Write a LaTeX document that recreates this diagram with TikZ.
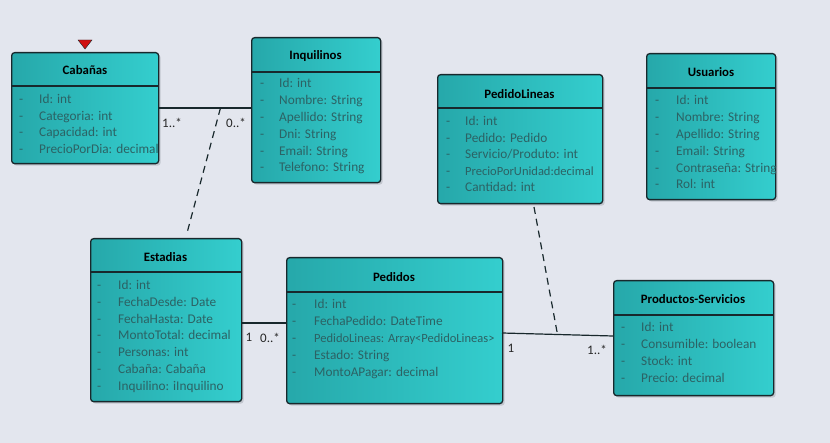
\documentclass[tikz,border=0pt]{standalone}
\usepackage{fontspec}
\setmainfont{Carlito}
\usetikzlibrary{shadows}
\definecolor{bg}{RGB}{227,230,238}
\definecolor{tealL}{RGB}{38,168,170}
\definecolor{tealR}{RGB}{52,206,206}
\definecolor{attrc}{RGB}{44,98,100}
\definecolor{edgec}{RGB}{24,40,44}
\definecolor{shadowc}{RGB}{188,192,200}
\definecolor{redtri}{RGB}{208,16,16}
\tikzset{
  classbox/.style={draw=edgec, line width=1.3pt, rounded corners=3pt,
    left color=tealL, right color=tealR, anchor=north west, inner sep=0pt,
    drop shadow={shadow xshift=2pt, shadow yshift=-2pt, fill=shadowc, opacity=0.8}},
  divider/.style={draw=edgec, line width=1.3pt},
  titletxt/.style={inner sep=0pt, font=\fontsize{12.8pt}{15pt}\selectfont\bfseries, text=black},
  attrtxt/.style={inner sep=0pt, anchor=mid west, font=\fontsize{13.3pt}{15pt}\selectfont, text=attrc},
  assoc/.style={draw=edgec, line width=1.2pt},
  depend/.style={draw=edgec, line width=1.2pt, dash pattern=on 7pt off 5pt},
  mult/.style={inner sep=0pt, font=\fontsize{13pt}{15pt}\selectfont, text=black!85},
}
\newcommand\narrowtxt[1]{{\fontsize{12.5pt}{15pt}\selectfont #1}}
\newcommand\attrlist[6]{%
  \foreach \myitem [count=\i from 0] in {#6} {
    \node[attrtxt] (#1-d\i) at (#2, #4+1.5+\i*#5) {-};
    \node[attrtxt] (#1-a\i) at (#3, #4+1.5+\i*#5) {\myitem};
  }}
\begin{document}
\begin{tikzpicture}[x=1pt, y=-1pt]
\fill[bg] (0,0) rectangle (830,443);
\useasboundingbox (0,0) rectangle (830,443);

% ---- Cabanas
\node[classbox, minimum width=147pt, minimum height=111pt] (cab) at (11,52) {};
\draw[divider] (cab.west |- 0,86) -- (cab.east |- 0,86);
\node[titletxt] (cab-t) at (85,70) {Cabañas};
\attrlist{cab}{19}{39}{100}{16.4}{Id: int, Categoria: int, Capacidad: int, PrecioPorDia: decimal}
\fill[redtri, draw=edgec, line width=0.4pt] (78,40) -- (92,40) -- (85,49) -- cycle;

% ---- Inquilinos
\node[classbox, minimum width=129pt, minimum height=145pt] (inq) at (251,37) {};
\draw[divider] (inq.west |- 0,72) -- (inq.east |- 0,72);
\node[titletxt] (inq-t) at (315.5,56) {Inquilinos};
\attrlist{inq}{260}{279}{84}{16.8}{Id: int, Nombre: String, Apellido: String, Dni: String, Email: String, Telefono: String}

% ---- PedidoLineas
\node[classbox, minimum width=165pt, minimum height=129pt] (pl) at (437,74) {};
\draw[divider] (pl.west |- 0,108) -- (pl.east |- 0,108);
\node[titletxt] (pl-t) at (519.5,94) {PedidoLineas};
\attrlist{pl}{446}{465}{122}{16.5}{Id: int, Pedido: Pedido, Servicio/Produto: int, \narrowtxt{PrecioPorUnidad:decimal}, Cantidad: int}

% ---- Usuarios
\node[classbox, minimum width=129pt, minimum height=146pt] (usu) at (646,53) {};
\draw[divider] (usu.west |- 0,88) -- (usu.east |- 0,88);
\node[titletxt] (usu-t) at (711,72) {Usuarios};
\attrlist{usu}{655}{676}{101}{16.8}{Id: int, Nombre: String, Apellido: String, Email: String, Contraseña: String, Rol: int}

% ---- Estadias
\node[classbox, minimum width=151pt, minimum height=163pt] (est) at (90,238) {};
\draw[divider] (est.west |- 0,272) -- (est.east |- 0,272);
\node[titletxt] (est-t) at (165.5,257) {Estadias};
\attrlist{est}{97}{118}{286}{16.7}{Id: int, FechaDesde: Date, FechaHasta: Date, MontoTotal: decimal, Personas: int, Cabaña: Cabaña, Inquilino: iInquilino}

% ---- Pedidos
\node[classbox, minimum width=216pt, minimum height=146pt] (ped) at (286,257) {};
\draw[divider] (ped.west |- 0,292) -- (ped.east |- 0,292);
\node[titletxt] (ped-t) at (394,277) {Pedidos};
\attrlist{ped}{292}{314}{305}{16.8}{Id: int, FechaPedido: DateTime, \narrowtxt{PedidoLineas: Array<PedidoLineas>}, Estado: String, MontoAPagar: decimal}

% ---- Productos-Servicios
\node[classbox, minimum width=160pt, minimum height=115pt] (prod) at (613,280) {};
\draw[divider] (prod.west |- 0,315) -- (prod.east |- 0,315);
\node[titletxt] (prod-t) at (693,299) {Productos-Servicios};
\attrlist{prod}{621}{641}{328}{17}{Id: int, Consumible: boolean, Stock: int, Precio: decimal}

% ---- connectors
\draw[assoc] (cab.east |- 0,108) -- coordinate[pos=0.667] (j1) (inq.west |- 0,108);
\coordinate (e1) at (187,233);
\draw[depend] (j1) -- (e1);
\node[mult] (m1) at (172,123) {1..*};
\node[mult] (m2) at (236,123) {0..*};

\draw[assoc] (est.east |- 0,323) -- (ped.west |- 0,323);
\node[mult] (m3) at (249,337) {1};
\node[mult] (m4) at (270,338) {0..*};

\coordinate (p1) at (502,333);
\coordinate (p2) at (613,336);
\draw[assoc] (p1) -- coordinate[pos=0.5] (j2) (p2);
\coordinate (d2) at (534,207);
\draw[depend] (d2) -- (j2);
\node[mult] (m5) at (511,348) {1};
\node[mult] (m6) at (597,350) {1..*};
\end{tikzpicture}
\end{document}
